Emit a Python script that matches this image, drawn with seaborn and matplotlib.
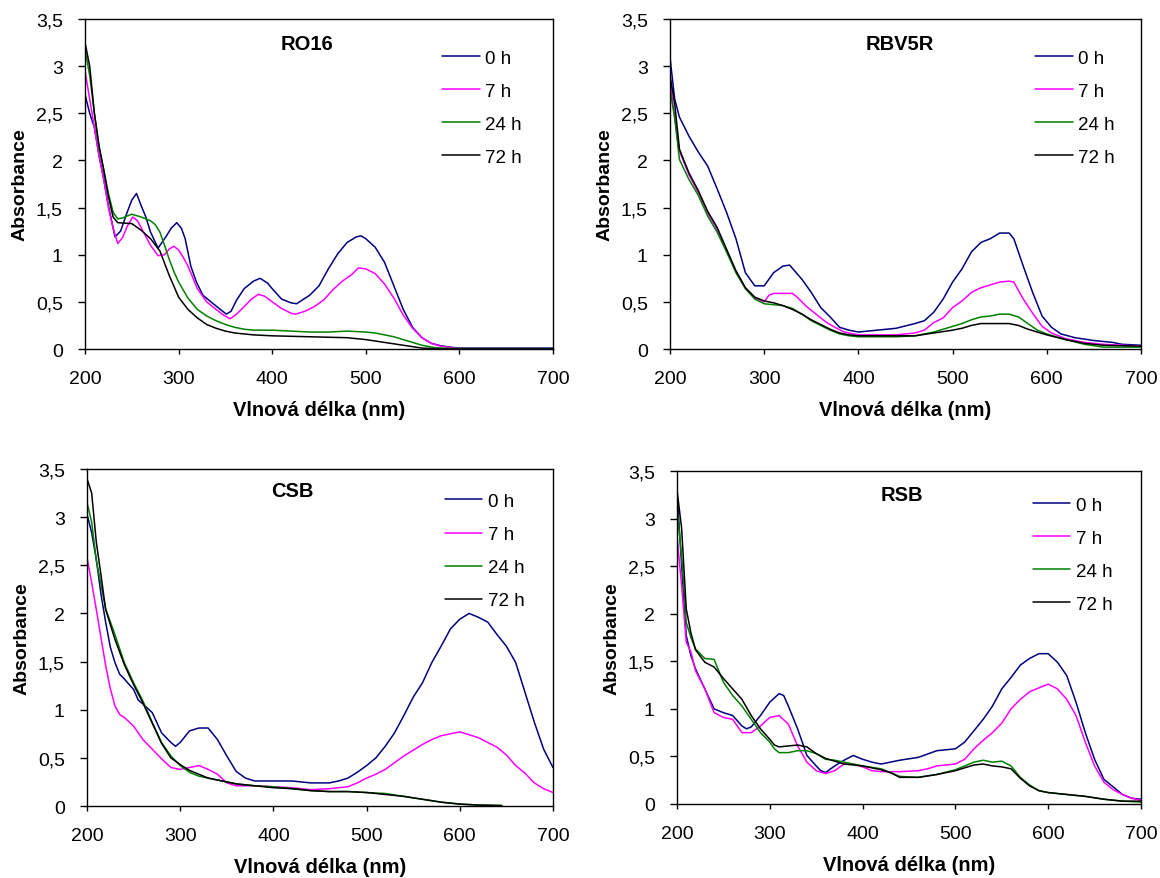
import matplotlib
matplotlib.use("Agg")
import matplotlib.pyplot as plt
from matplotlib.ticker import FuncFormatter, MultipleLocator
import seaborn as sns
import pandas as pd

# ---- RO16 ----
ro16_0h_nm = [200, 205, 210, 215, 220, 225, 232, 238, 245, 250, 255, 260, 265, 270, 278, 287, 292, 298, 303, 307,
              313, 319, 326, 337, 351, 356, 362, 370, 380, 387, 395, 400, 410, 420, 426, 440, 450, 460, 470, 480,
              490, 495, 500, 510, 520, 530, 540, 550, 560, 570, 580, 590, 600, 650, 700]
ro16_0h_abs = [2.70, 2.50, 2.35, 2.05, 1.80, 1.52, 1.19, 1.25, 1.45, 1.58, 1.65, 1.52, 1.40, 1.24, 1.07, 1.20, 1.28, 1.34,
               1.28, 1.17, 0.88, 0.71, 0.57, 0.48, 0.37, 0.40, 0.52, 0.64, 0.72, 0.75, 0.70, 0.64, 0.53, 0.49, 0.48,
               0.57, 0.67, 0.85, 1.01, 1.13, 1.19, 1.20, 1.17, 1.08, 0.92, 0.67, 0.42, 0.23, 0.12, 0.06, 0.035, 0.02,
               0.01, 0.01, 0.01]
ro16_7h_nm = [200, 205, 210, 215, 220, 225, 230, 235, 240, 245, 251, 256, 262, 270, 278, 285, 290, 295, 300, 305,
              310, 315, 320, 330, 340, 348, 355, 362, 370, 378, 385, 392, 400, 410, 420, 425, 435, 445, 455, 465,
              475, 485, 492, 500, 510, 520, 530, 540, 550, 560, 570, 580, 600, 650, 700]
ro16_7h_abs = [2.95, 2.65, 2.35, 2.05, 1.80, 1.50, 1.28, 1.12, 1.18, 1.30, 1.40, 1.36, 1.25, 1.10, 0.99, 1.00, 1.06, 1.09,
               1.05, 0.97, 0.88, 0.76, 0.64, 0.50, 0.42, 0.36, 0.32, 0.37, 0.45, 0.53, 0.58, 0.56, 0.50, 0.43, 0.38,
               0.37, 0.40, 0.45, 0.52, 0.63, 0.72, 0.79, 0.86, 0.85, 0.80, 0.69, 0.54, 0.36, 0.22, 0.12, 0.06, 0.03,
               0.005, 0.005, 0.005]
ro16_24h_nm = [200, 205, 210, 215, 220, 225, 230, 235, 240, 250, 260, 270, 275, 280, 285, 290, 295, 300, 310, 320,
               330, 340, 350, 360, 370, 380, 400, 420, 440, 460, 480, 500, 510, 520, 530, 540, 550, 560, 570, 580,
               600, 700]
ro16_24h_abs = [3.18, 2.90, 2.50, 2.15, 1.90, 1.65, 1.45, 1.38, 1.39, 1.43, 1.40, 1.36, 1.32, 1.24, 1.10, 0.95, 0.82,
                0.71, 0.54, 0.42, 0.35, 0.30, 0.26, 0.23, 0.21, 0.20, 0.20, 0.19, 0.18, 0.18, 0.19, 0.18, 0.17, 0.15,
                0.13, 0.10, 0.07, 0.04, 0.02, 0.01, 0.005, 0.005]
ro16_72h_nm = [200, 205, 210, 215, 220, 225, 230, 235, 250, 260, 270, 280, 290, 300, 310, 320, 330, 340, 350, 360,
               380, 400, 440, 480, 490, 500, 520, 540, 560, 580, 700]
ro16_72h_abs = [3.25, 3.00, 2.50, 2.15, 1.90, 1.62, 1.40, 1.34, 1.33, 1.26, 1.17, 1.04, 0.78, 0.55, 0.42, 0.33, 0.26,
                0.22, 0.19, 0.17, 0.15, 0.14, 0.13, 0.12, 0.11, 0.10, 0.07, 0.04, 0.01, 0.0, 0.0]

# ---- RBV5R ----
rbv_0h_nm = [200, 205, 210, 220, 230, 240, 250, 260, 270, 280, 290, 300, 310, 320, 327, 340, 350, 360, 370, 380, 390,
             400, 410, 420, 440, 460, 470, 480, 490, 500, 510, 520, 530, 540, 550, 560, 565, 575, 585, 595, 605, 615,
             630, 650, 670, 680, 700]
rbv_0h_abs = [3.09, 2.65, 2.46, 2.26, 2.09, 1.94, 1.70, 1.45, 1.17, 0.81, 0.67, 0.67, 0.81, 0.88, 0.89, 0.74, 0.60,
              0.44, 0.34, 0.23, 0.20, 0.18, 0.19, 0.20, 0.22, 0.27, 0.30, 0.39, 0.53, 0.71, 0.85, 1.03, 1.13, 1.17,
              1.23, 1.23, 1.17, 0.88, 0.60, 0.35, 0.23, 0.16, 0.12, 0.09, 0.07, 0.05, 0.04]
rbv_7h_nm = [200, 205, 210, 220, 230, 240, 250, 260, 270, 280, 290, 300, 305, 310, 330, 335, 345, 355, 365, 375, 385,
             400, 440, 460, 470, 480, 490, 500, 510, 520, 530, 540, 550, 560, 565, 575, 585, 595, 605, 620, 640, 660,
             700]
rbv_7h_abs = [2.85, 2.45, 2.10, 1.85, 1.66, 1.44, 1.27, 1.05, 0.82, 0.65, 0.54, 0.50, 0.57, 0.59, 0.59, 0.55, 0.45,
              0.37, 0.29, 0.23, 0.18, 0.15, 0.15, 0.17, 0.20, 0.28, 0.33, 0.44, 0.51, 0.60, 0.65, 0.68, 0.71, 0.72,
              0.71, 0.53, 0.38, 0.24, 0.17, 0.11, 0.07, 0.05, 0.03]
rbv_24h_nm = [200, 205, 210, 220, 230, 240, 250, 260, 270, 280, 290, 300, 310, 320, 330, 340, 350, 360, 370, 380, 390,
              400, 420, 440, 460, 480, 490, 500, 510, 520, 530, 540, 550, 560, 570, 580, 590, 600, 620, 640, 660, 700]
rbv_24h_abs = [2.75, 2.45, 2.01, 1.80, 1.63, 1.41, 1.24, 1.03, 0.81, 0.64, 0.53, 0.48, 0.47, 0.46, 0.43, 0.37, 0.30,
               0.25, 0.20, 0.16, 0.14, 0.13, 0.13, 0.13, 0.14, 0.18, 0.21, 0.24, 0.27, 0.31, 0.34, 0.35, 0.37, 0.37,
               0.34, 0.27, 0.20, 0.16, 0.10, 0.05, 0.02, 0.02]
rbv_72h_nm = [200, 205, 210, 220, 230, 240, 250, 260, 270, 280, 290, 300, 310, 320, 330, 340, 350, 360, 370, 380, 390,
              400, 440, 460, 480, 500, 510, 520, 530, 560, 570, 580, 590, 600, 620, 640, 660, 700]
rbv_72h_abs = [2.90, 2.60, 2.12, 1.87, 1.68, 1.46, 1.29, 1.06, 0.83, 0.65, 0.55, 0.51, 0.49, 0.46, 0.42, 0.37, 0.31,
               0.26, 0.21, 0.17, 0.15, 0.14, 0.14, 0.14, 0.17, 0.20, 0.22, 0.25, 0.27, 0.27, 0.25, 0.21, 0.18, 0.15,
               0.10, 0.06, 0.04, 0.03]

# ---- CSB ----
csb_0h_nm = [200, 205, 210, 215, 220, 225, 230, 235, 240, 250, 255, 260, 270, 280, 290, 295, 300, 310, 320, 330, 340,
             350, 360, 370, 380, 400, 420, 440, 460, 470, 480, 490, 500, 510, 520, 530, 540, 550, 560, 570, 580, 590,
             600, 610, 620, 630, 640, 650, 660, 670, 680, 690, 700]
csb_0h_abs = [3.03, 2.84, 2.56, 2.20, 1.91, 1.65, 1.49, 1.37, 1.32, 1.21, 1.10, 1.06, 0.97, 0.76, 0.66, 0.62, 0.66,
              0.78, 0.81, 0.81, 0.69, 0.52, 0.36, 0.29, 0.26, 0.26, 0.26, 0.24, 0.24, 0.26, 0.29, 0.35, 0.42, 0.50,
              0.62, 0.76, 0.94, 1.13, 1.28, 1.49, 1.66, 1.84, 1.94, 2.00, 1.96, 1.91, 1.78, 1.66, 1.49, 1.18, 0.87,
              0.59, 0.40]
csb_7h_nm = [200, 205, 210, 215, 220, 225, 230, 235, 240, 250, 260, 270, 280, 290, 300, 310, 320, 330, 340, 350, 360,
             380, 400, 420, 440, 460, 480, 490, 500, 510, 520, 530, 540, 550, 560, 570, 580, 590, 600, 610, 620, 630,
             640, 650, 660, 670, 680, 690, 700]
csb_7h_abs = [2.58, 2.32, 2.04, 1.75, 1.46, 1.22, 1.04, 0.95, 0.92, 0.83, 0.69, 0.59, 0.49, 0.40, 0.38, 0.40, 0.42,
              0.38, 0.33, 0.24, 0.21, 0.21, 0.20, 0.19, 0.17, 0.18, 0.20, 0.24, 0.29, 0.33, 0.38, 0.45, 0.52, 0.58,
              0.64, 0.69, 0.73, 0.75, 0.77, 0.74, 0.71, 0.66, 0.61, 0.53, 0.42, 0.34, 0.24, 0.18, 0.14]
csb_24h_nm = [200, 205, 210, 215, 220, 230, 240, 250, 260, 270, 280, 290, 300, 310, 320, 330, 340, 350, 360, 380, 400,
              420, 440, 460, 480, 500, 520, 540, 560, 580, 600, 620, 645]
csb_24h_abs = [3.15, 2.95, 2.55, 2.30, 2.05, 1.78, 1.49, 1.28, 1.09, 0.87, 0.66, 0.52, 0.42, 0.35, 0.31, 0.29, 0.27,
               0.25, 0.23, 0.21, 0.20, 0.18, 0.16, 0.15, 0.15, 0.14, 0.13, 0.10, 0.07, 0.04, 0.02, 0.01, 0.005]
csb_72h_nm = [200, 205, 210, 215, 220, 230, 240, 250, 260, 270, 280, 290, 300, 310, 320, 330, 340, 350, 360, 380, 400,
              420, 440, 460, 480, 500, 520, 540, 560, 580, 600, 620, 645]
csb_72h_abs = [3.40, 3.25, 2.74, 2.40, 2.04, 1.73, 1.47, 1.26, 1.07, 0.86, 0.65, 0.50, 0.43, 0.37, 0.33, 0.29, 0.27,
               0.25, 0.23, 0.21, 0.19, 0.18, 0.16, 0.15, 0.15, 0.14, 0.12, 0.10, 0.07, 0.04, 0.02, 0.01, 0.005]

# ---- RSB ----
rsb_0h_nm = [200, 205, 210, 215, 220, 230, 240, 250, 260, 270, 275, 280, 290, 300, 310, 315, 320, 330, 340, 350, 355,
             360, 370, 380, 390, 400, 410, 420, 440, 460, 480, 500, 510, 520, 530, 540, 550, 560, 570, 580, 590, 600,
             610, 620, 630, 640, 650, 660, 670, 680, 690, 700]
rsb_0h_abs = [3.28, 2.51, 1.77, 1.56, 1.42, 1.21, 1.00, 0.96, 0.93, 0.82, 0.79, 0.81, 0.93, 1.07, 1.16, 1.14, 1.03,
              0.79, 0.51, 0.40, 0.35, 0.33, 0.40, 0.46, 0.51, 0.47, 0.44, 0.42, 0.46, 0.49, 0.56, 0.58, 0.65, 0.77,
              0.89, 1.03, 1.21, 1.33, 1.46, 1.53, 1.58, 1.58, 1.49, 1.35, 1.07, 0.75, 0.47, 0.26, 0.18, 0.10, 0.06,
              0.05]
rsb_7h_nm = [200, 205, 210, 215, 220, 230, 240, 250, 260, 270, 280, 290, 300, 310, 320, 330, 340, 350, 360, 370, 380,
             390, 400, 410, 420, 440, 460, 470, 480, 500, 510, 520, 530, 540, 550, 560, 570, 580, 590, 600, 610, 620,
             630, 640, 650, 660, 670, 680, 690, 700]
rsb_7h_abs = [2.81, 2.30, 1.70, 1.60, 1.40, 1.21, 0.96, 0.91, 0.89, 0.75, 0.75, 0.82, 0.91, 0.93, 0.84, 0.61, 0.44,
              0.35, 0.32, 0.35, 0.42, 0.42, 0.39, 0.35, 0.34, 0.34, 0.35, 0.37, 0.40, 0.42, 0.47, 0.58, 0.67, 0.75,
              0.85, 1.00, 1.10, 1.18, 1.22, 1.26, 1.21, 1.10, 0.93, 0.65, 0.40, 0.23, 0.15, 0.10, 0.06, 0.04]
rsb_24h_nm = [200, 205, 210, 215, 220, 230, 240, 250, 260, 270, 280, 290, 300, 305, 310, 320, 330, 340, 350, 360, 370,
              380, 390, 400, 420, 430, 440, 460, 480, 500, 510, 520, 530, 540, 550, 560, 570, 580, 590, 600, 620, 640,
              660, 680, 700]
rsb_24h_abs = [3.12, 2.60, 1.91, 1.75, 1.63, 1.53, 1.52, 1.28, 1.14, 1.03, 0.89, 0.75, 0.65, 0.58, 0.54, 0.54, 0.56,
               0.56, 0.53, 0.47, 0.46, 0.44, 0.42, 0.40, 0.37, 0.33, 0.29, 0.28, 0.31, 0.36, 0.40, 0.44, 0.46, 0.44,
               0.45, 0.40, 0.28, 0.20, 0.14, 0.12, 0.10, 0.08, 0.05, 0.03, 0.02]
rsb_72h_nm = [200, 205, 210, 215, 220, 230, 240, 250, 260, 270, 280, 290, 300, 305, 310, 320, 330, 340, 350, 360, 370,
              380, 400, 420, 430, 440, 460, 480, 500, 510, 520, 530, 540, 550, 560, 570, 580, 590, 600, 620, 640, 660,
              680, 700]
rsb_72h_abs = [3.30, 2.90, 2.05, 1.80, 1.62, 1.49, 1.44, 1.32, 1.21, 1.10, 0.93, 0.79, 0.68, 0.62, 0.60, 0.61, 0.62,
               0.60, 0.53, 0.48, 0.45, 0.42, 0.40, 0.36, 0.33, 0.28, 0.28, 0.31, 0.35, 0.38, 0.41, 0.42, 0.40, 0.39,
               0.37, 0.27, 0.19, 0.14, 0.12, 0.10, 0.08, 0.05, 0.03, 0.03]

times = ["0 h", "7 h", "24 h", "72 h"]
colors = ["#000080", "#FF00FF", "#008000", "#000000"]

panels = [
    ("RO16", [(ro16_0h_nm, ro16_0h_abs), (ro16_7h_nm, ro16_7h_abs),
              (ro16_24h_nm, ro16_24h_abs), (ro16_72h_nm, ro16_72h_abs)]),
    ("RBV5R", [(rbv_0h_nm, rbv_0h_abs), (rbv_7h_nm, rbv_7h_abs),
               (rbv_24h_nm, rbv_24h_abs), (rbv_72h_nm, rbv_72h_abs)]),
    ("CSB", [(csb_0h_nm, csb_0h_abs), (csb_7h_nm, csb_7h_abs),
             (csb_24h_nm, csb_24h_abs), (csb_72h_nm, csb_72h_abs)]),
    ("RSB", [(rsb_0h_nm, rsb_0h_abs), (rsb_7h_nm, rsb_7h_abs),
             (rsb_24h_nm, rsb_24h_abs), (rsb_72h_nm, rsb_72h_abs)]),
]

sns.set_style("ticks")
plt.rcParams["font.family"] = ["Liberation Sans", "DejaVu Sans"]
plt.rcParams["font.size"] = 14
for key in ("text.color", "axes.labelcolor", "xtick.color", "ytick.color", "axes.edgecolor"):
    plt.rcParams[key] = "black"

fig = plt.figure(figsize=(11.6, 8.79), dpi=100)

# axes boxes [left, bottom, width, height], title x/y, legend anchor
layout = [
    ([0.0733, 0.6018, 0.4034, 0.3754], (0.474, 0.925), (0.763, 0.908)),
    ([0.5776, 0.6018, 0.4060, 0.3754], (0.488, 0.925), (0.775, 0.908)),
    ([0.0750, 0.0819, 0.4017, 0.3834], (0.440, 0.935), (0.768, 0.929)),
    ([0.5836, 0.0842, 0.4000, 0.3788], (0.485, 0.930), (0.767, 0.923)),
]

comma = FuncFormatter(lambda v, _: f"{v:g}".replace(".", ","))

for (name, series), (box, tpos, lpos) in zip(panels, layout):
    ax = fig.add_axes(box)
    frames = []
    for t, (nm, ab) in zip(times, series):
        frames.append(pd.DataFrame({"nm": nm, "A": ab, "t": t}))
    df = pd.concat(frames, ignore_index=True)
    sns.lineplot(data=df, x="nm", y="A", hue="t", hue_order=times, palette=colors,
                 estimator=None, linewidth=1.1, ax=ax)
    sns.move_legend(ax, loc="upper left", bbox_to_anchor=lpos, frameon=False, title=None,
                    fontsize=13.5, handlelength=2.0, handletextpad=0.28, labelspacing=0.85,
                    borderpad=0, borderaxespad=0)
    ax.set_xlim(200, 700)
    ax.set_ylim(0, 3.5)
    ax.xaxis.set_major_locator(MultipleLocator(100))
    ax.yaxis.set_major_locator(MultipleLocator(0.5))
    ax.yaxis.set_major_formatter(comma)
    ax.tick_params(axis="x", direction="out", length=3.8, width=1, pad=11, labelsize=14)
    ax.tick_params(axis="y", direction="out", length=5, width=1, pad=11, labelsize=14)
    for s in ax.spines.values():
        s.set_visible(True)
        s.set_color("black")
        s.set_linewidth(1)
    ax.set_xlabel("Vlnová délka (nm)", fontsize=14.5, fontweight="bold", labelpad=10)
    ax.set_ylabel("Absorbance", fontsize=14, fontweight="bold", labelpad=5)
    ax.text(tpos[0], tpos[1], name, transform=ax.transAxes, ha="center", va="center",
            fontsize=14.5, fontweight="bold")

fig.savefig("out.png", dpi=100)
